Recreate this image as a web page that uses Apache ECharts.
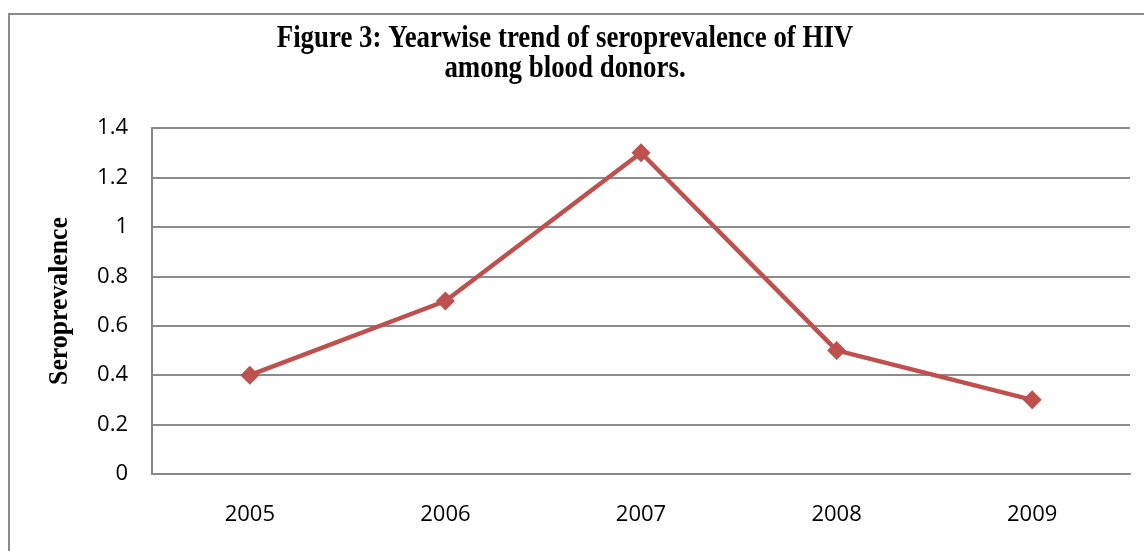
<!DOCTYPE html>
<html><head><meta charset="utf-8">
<script src="https://cdn.jsdelivr.net/npm/echarts@6/dist/echarts.min.js"></script>
<style>html,body{margin:0;padding:0;background:#fff}#c{width:1144px;height:551px}</style>
</head><body><div id="c"></div>
<script>
const years = ['2005','2006','2007','2008','2009'];
const seroprevalence = [0.4, 0.7, 1.3, 0.5, 0.3];
const yTicks = {min:0, max:1.4, interval:0.2};
const titleLine1 = 'Figure 3: Yearwise trend of seroprevalence of HIV';
const titleLine2 = 'among blood donors.';
const yName = 'Seroprevalence';

const serif = 'bold 32px "Liberation Serif", "Times New Roman", serif';
const chart = echarts.init(document.getElementById('c'));
chart.setOption({
  animation:false,
  backgroundColor:'#fff',
  graphic:[
    {type:'rect',shape:{x:9,y:14,width:1200,height:600},style:{fill:'none',stroke:'#8a8a8a',lineWidth:2},silent:true},
    {type:'text',x:565,y:39,scaleX:0.84,silent:true,
      style:{text:titleLine1,x:0,y:0,font:serif,fill:'#000',textAlign:'center',textVerticalAlign:'middle'}},
    {type:'text',x:565,y:69,scaleX:0.84,silent:true,
      style:{text:titleLine2,x:0,y:0,font:serif,fill:'#000',textAlign:'center',textVerticalAlign:'middle'}},
    {type:'text',x:60,y:301,rotation:Math.PI/2,scaleX:0.92,silent:true,
      style:{text:yName,x:0,y:0,font:'bold 28px "Liberation Serif", serif',fill:'#000',textAlign:'center',textVerticalAlign:'middle'}}
  ],
  grid:{left:152,right:14,top:128,bottom:77},
  xAxis:{type:'category',data:years,boundaryGap:true,
    axisLine:{lineStyle:{color:'#868686',width:2}},axisTick:{show:false},
    axisLabel:{fontFamily:'Open Sans',fontSize:22,color:'#000',margin:30}},
  yAxis:{type:'value',min:yTicks.min,max:yTicks.max,interval:yTicks.interval,
    axisLine:{show:true,lineStyle:{color:'#868686',width:2}},axisTick:{show:false},
    splitLine:{lineStyle:{color:'#8c8c8c',width:2}},
    axisLabel:{fontFamily:'Open Sans',fontSize:22,color:'#000',margin:24,
      formatter:v=>String(Math.round(v*10)/10)}},
  series:[{type:'line',data:seroprevalence,symbol:'diamond',symbolSize:19,
    lineStyle:{color:'#C0504D',width:4.5},itemStyle:{color:'#C0504D'}}]
});
</script></body></html>
